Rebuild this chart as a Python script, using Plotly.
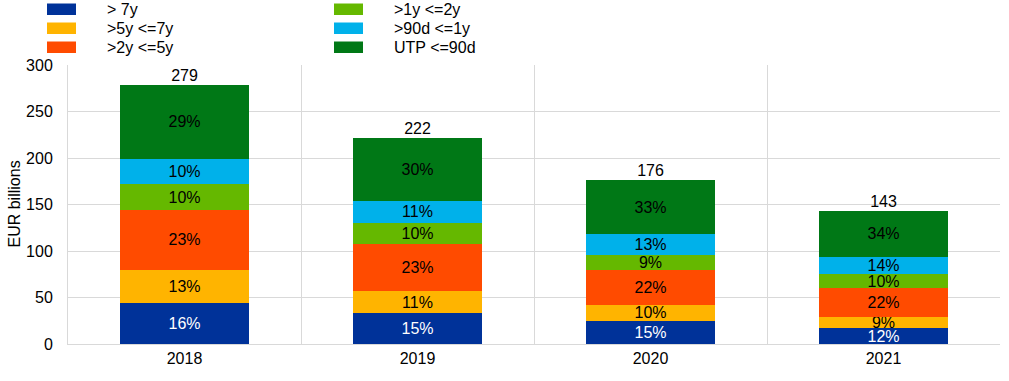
import plotly.graph_objects as go

years = ["2018", "2019", "2020", "2021"]
totals = [279, 222, 176, 143]

series_names = ["> 7y", ">5y <=7y", ">2y <=5y", ">1y <=2y", ">90d <=1y", "UTP <=90d"]
v_gt7y = [44, 33, 25, 17]
v_5to7y = [36, 24, 17, 12]
v_2to5y = [64, 51, 38, 31]
v_1to2y = [28, 22, 16, 15]
v_90dto1y = [27, 24, 22, 19]
v_utp = [80, 68, 58, 49]

p_gt7y = ["16%", "15%", "15%", "12%"]
p_5to7y = ["13%", "11%", "10%", "9%"]
p_2to5y = ["23%", "23%", "22%", "22%"]
p_1to2y = ["10%", "10%", "9%", "10%"]
p_90dto1y = ["10%", "11%", "13%", "14%"]
p_utp = ["29%", "30%", "33%", "34%"]

colors = ["#003299", "#FFB400", "#FF4B00", "#65B800", "#00B1EA", "#007816"]
values = [v_gt7y, v_5to7y, v_2to5y, v_1to2y, v_90dto1y, v_utp]
pcts = [p_gt7y, p_5to7y, p_2to5y, p_1to2y, p_90dto1y, p_utp]
font_colors = ["white", "black", "black", "black", "black", "black"]

FONT = "Liberation Sans, Arial, sans-serif"
FS = 16

fig = go.Figure()
for i in range(6):
    fig.add_trace(go.Bar(
        x=years, y=values[i], name=series_names[i],
        marker=dict(color=colors[i], line=dict(width=0)),
        text=pcts[i], textposition="inside", insidetextanchor="middle",
        constraintext="none", textangle=0,
        textfont=dict(color=font_colors[i], size=FS, family=FONT),
        showlegend=False, hoverinfo="skip",
    ))

fig.add_trace(go.Scatter(
    x=years, y=totals, mode="text", text=[str(t) for t in totals],
    textposition="top center", textfont=dict(size=FS, color="black", family=FONT),
    showlegend=False, hoverinfo="skip", cliponaxis=False,
))

# Plot-area geometry (pixels) for placing the legend in paper coordinates
W, H = 1009, 381
L, R, T, B = 68, 9, 65, 37
PW, PH = W - L - R, H - T - B


def px_x(px):
    return (px - L) / PW


def px_y(py):
    return (H - B - py) / PH


shapes = []
annotations = []
col_swatch_x = [(47, 76), (334, 363)]
col_text_x = [105, 392]
row_y = [(3.5, 15), (22.5, 34), (41.5, 53)]
for i in range(6):
    c, r = divmod(i, 3)
    x0, x1 = col_swatch_x[c]
    y0, y1 = row_y[r]
    shapes.append(dict(type="rect", xref="paper", yref="paper",
                       x0=px_x(x0), x1=px_x(x1), y0=px_y(y1), y1=px_y(y0),
                       fillcolor=colors[i], line=dict(width=0), layer="above"))
    annotations.append(dict(text=series_names[i], xref="paper", yref="paper",
                            x=px_x(col_text_x[c]), y=px_y((y0 + y1) / 2),
                            xanchor="left", yanchor="middle", showarrow=False,
                            font=dict(size=FS, family=FONT, color="black")))

annotations.append(dict(text="EUR billions", xref="paper", yref="paper", x=px_x(14), y=0.5,
                        textangle=-90, showarrow=False, xanchor="center", yanchor="middle",
                        font=dict(size=FS, family=FONT)))

fig.update_layout(
    width=W, height=H,
    margin=dict(l=L, r=R, t=T, b=B, autoexpand=False),
    paper_bgcolor="white", plot_bgcolor="white",
    barmode="stack", bargap=0.45,
    font=dict(family=FONT, size=FS, color="black"),
    showlegend=False,
    yaxis=dict(range=[0, 300], dtick=50, showgrid=True, gridcolor="#d9d9d9", gridwidth=1,
               showline=True, linecolor="#d9d9d9", zeroline=False,
               tickfont=dict(size=FS), ticks="", ticklabelstandoff=11),
    xaxis=dict(type="category", tickson="boundaries", showgrid=True, gridcolor="#d9d9d9",
               showline=True, linecolor="#d9d9d9", ticks="", tickfont=dict(size=FS)),
    shapes=shapes,
    annotations=annotations,
)

fig.write_html("out.html", config={"displayModeBar": False},
               post_script="document.body.style.margin='0px';")
